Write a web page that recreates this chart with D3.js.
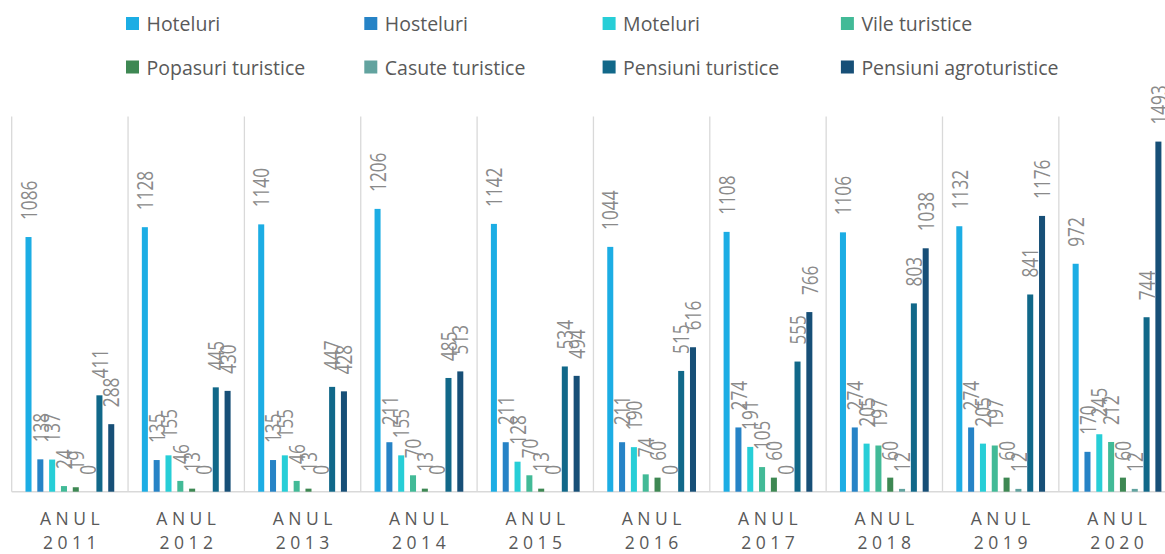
<!DOCTYPE html>
<html>
<head>
<meta charset="utf-8">
<script src="https://cdn.jsdelivr.net/npm/d3@7"></script>
<style>
  html, body { margin: 0; padding: 0; background: #ffffff; }
  svg { display: block; }
</style>
</head>
<body>
<svg id="chart" width="1165" height="554"></svg>
<script>
const years = ["2011","2012","2013","2014","2015","2016","2017","2018","2019","2020"];
const seriesNames = ["Hoteluri","Hosteluri","Moteluri","Vile turistice","Popasuri turistice","Casute turistice","Pensiuni turistice","Pensiuni agroturistice"];
const seriesColors = ["#1CADE4","#2683C6","#27CED7","#42BA97","#3E8853","#62A39F","#116889","#174F77"];
const hoteluri    = [1086,1128,1140,1206,1142,1044,1108,1106,1132,972];
const hosteluri   = [138,135,135,211,211,211,274,274,274,170];
const moteluri    = [137,155,155,155,128,190,191,205,205,245];
const vile        = [24,46,46,70,70,74,105,197,197,212];
const popasuri    = [19,13,13,13,13,60,60,60,60,60];
const casute      = [0,0,0,0,0,0,0,12,12,12];
const pensiuni    = [411,445,447,485,534,515,555,803,841,744];
const agro        = [288,430,428,513,494,616,766,1038,1176,1493];
const axisLine1 = "ANUL";

const seriesValues = [hoteluri, hosteluri, moteluri, vile, popasuri, casute, pensiuni, agro];

const svg = d3.select("#chart");

const baseY = 491.7, topY = 116.5;
const left = 11.7, catW = 116.35;

const x0 = d3.scaleBand().domain(years).range([left, left + catW * years.length]).padding(0);
const x1 = d3.scaleBand().domain(seriesNames).range([10.9, catW - 10.9]).paddingInner(0.49).paddingOuter(0.245);
const y = d3.scaleLinear().domain([0, 1600]).range([baseY, topY]);

// vertical separators (category gridlines)
const seps = d3.range(years.length + 1).map(i => left + i * catW);
svg.append("g").selectAll("line").data(seps).join("line")
  .attr("x1", d => d).attr("x2", d => d)
  .attr("y1", topY).attr("y2", baseY)
  .attr("stroke", "#d9d9d9").attr("stroke-width", 1.3);

// baseline
svg.append("line")
  .attr("x1", left).attr("x2", left + catW * years.length)
  .attr("y1", baseY).attr("y2", baseY)
  .attr("stroke", "#d9d9d9").attr("stroke-width", 1.5);

// bars
const data = [];
years.forEach((yr, i) => {
  seriesNames.forEach((s, j) => {
    data.push({ year: yr, series: s, value: seriesValues[j][i], color: seriesColors[j] });
  });
});

const g = svg.append("g");
g.selectAll("rect").data(data).join("rect")
  .attr("x", d => x0(d.year) + x1(d.series))
  .attr("width", x1.bandwidth())
  .attr("y", d => y(d.value))
  .attr("height", d => baseY - y(d.value))
  .attr("fill", d => d.color);

// data labels
g.selectAll("text.lbl").data(data).join("text")
  .attr("class", "lbl")
  .attr("transform", d => {
    const cx = x0(d.year) + x1(d.series) + x1.bandwidth() / 2;
    const cy = y(d.value) - 17;
    return `translate(${cx},${cy}) rotate(-90) scale(0.82,1)`;
  })
  .attr("text-anchor", "start")
  .attr("dominant-baseline", "central")
  .attr("font-family", "'Open Sans', sans-serif")
  .attr("font-size", 21)
  .attr("fill", "#8a8a8a")
  .text(d => d.value);

// category axis labels
const ax = svg.append("g");
years.forEach(yr => {
  const cx = x0(yr) + x0.bandwidth() / 2 + 2.2;
  const t = ax.append("text")
    .attr("text-anchor", "middle")
    .attr("font-family", "'Open Sans', sans-serif")
    .attr("font-size", 17.5)
    .attr("letter-spacing", "4.5px")
    .attr("fill", "#595959");
  t.append("tspan").attr("x", cx).attr("y", 525).text(axisLine1);
  t.append("tspan").attr("x", cx).attr("y", 549).text(yr);
});

// legend
const legend = svg.append("g");
seriesNames.forEach((s, j) => {
  const col = j % 4, row = Math.floor(j / 4);
  const lx = 126 + col * 238.3;
  const ly = row === 0 ? 17 : 60.5;
  legend.append("rect").attr("x", lx).attr("y", ly).attr("width", 13).attr("height", 13).attr("fill", seriesColors[j]);
  legend.append("text")
    .attr("x", lx + 20.5).attr("y", ly + 6.5)
    .attr("dominant-baseline", "central")
    .attr("font-family", "'Open Sans', sans-serif")
    .attr("font-size", 19.5)
    .attr("fill", "#595959")
    .text(s);
});
</script>
</body>
</html>
